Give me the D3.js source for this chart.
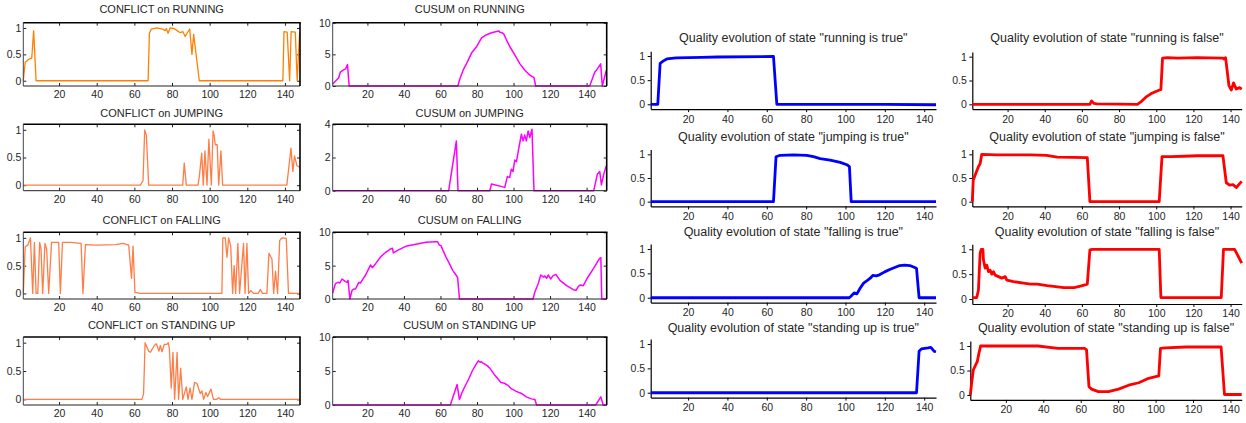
<!DOCTYPE html>
<html><head><meta charset="utf-8">
<script src="https://cdn.jsdelivr.net/npm/d3@7"></script>
<style>
body{margin:0;background:#fff}
svg{display:block}
text{font-family:"Liberation Sans",Arial,sans-serif;fill:#262626}
</style>
</head><body>
<svg id="c" width="1246" height="423"></svg>
<script>
// ---------------- DATA (x = time index, y = value) ----------------
const xTickValues = [20,40,60,80,100,120,140];
const yTicksUnit = [0,0.5,1];
const yTicksCusum10 = [0,5,10];
const yTicksCusum4 = [0,2,4];

const conflictTitles = ["CONFLICT on RUNNING","CONFLICT on JUMPING","CONFLICT on FALLING","CONFLICT on STANDING UP"];
const cusumTitles = ["CUSUM on RUNNING","CUSUM on JUMPING","CUSUM on FALLING","CUSUM on STANDING UP"];
const qualityTrueTitles = ['Quality evolution of state "running is true"','Quality evolution of state "jumping is true"','Quality evolution of state "falling is true"','Quality evolution of state "standing up is true"'];
const qualityFalseTitles = ['Quality evolution of state "running is false"','Quality evolution of state "jumping is false"','Quality evolution of state "falling is false"','Quality evolution of state "standing up is false"'];

const conflictRunning = [[1,0],[2,0.35],[3,0.38],[4,0.41],[5.5,0.43],[6.5,0.95],[7.8,0],[67.3,0],[68,0.9],[69,0.98],[72,1],[75,0.98],[76.3,0.95],[77,0.99],[77.9,0.9],[79,1],[81,0.99],[82.7,0.95],[84.4,0.91],[85.8,0.93],[87,0.84],[88,0.9],[89.4,0.98],[90.6,0.5],[91.5,0.88],[94.5,0],[138.9,0],[139.5,0.93],[141.2,0.92],[142.5,0],[143.3,0.93],[145.5,0.92],[146.5,0],[147.8,0.92]];
const conflictJumping = [[1,0],[63.2,0],[64.6,0.08],[65.5,1.0],[66.4,0.9],[67.6,0],[85.7,0],[86.5,0.4],[87.6,0],[93.8,0],[94.5,0.15],[95.8,0.58],[96.6,0],[97.5,0.62],[98.6,0],[99.6,0.83],[100.9,0],[101.8,0.98],[102.4,0.9],[103,0.73],[104,0.73],[104.8,0],[106,0.62],[106.9,0],[141,0],[143.2,0.67],[144.2,0.25],[145.1,0.53],[146.4,0.35],[148,0.32]];
const conflictFalling = [[1,0],[2,0.84],[3.4,0.87],[4.8,1.0],[6,0],[6.9,0.92],[7.8,0],[8.7,0],[9.7,0.92],[10.4,0.8],[11.3,0],[12.5,0.9],[13.4,0.8],[14.5,0],[16,0.92],[19.8,0.92],[20.7,0],[21.8,0.92],[26,0.92],[31.7,0.9],[32.7,0],[34,0.88],[40,0.87],[50,0.88],[54,0.9],[57,0.87],[58.5,0.27],[59.3,0.85],[60.3,0.02],[63,0],[106.5,0],[107,1.0],[108.3,1.0],[109.2,0.65],[110.1,1.0],[111.2,0.85],[112.2,0],[113,0.5],[113.8,0],[115,0.9],[115.9,0],[118,0.9],[118.8,0],[119.8,0.9],[120.7,0],[121.9,0.05],[123.4,0],[125.8,0],[126.9,0.07],[128.1,0],[130.4,0],[131.5,0.72],[133.1,0.62],[134,0],[135,0.4],[136.1,0],[137.2,0.95],[138.4,1.0],[140.7,0.99],[141.9,0],[148,0]];
const conflictStanding = [[1,0],[64,0],[64.9,0.1],[65.7,1.0],[67.6,0.85],[68.5,0.83],[70.6,0.95],[71.7,0.98],[73.1,0.85],[73.8,0.95],[74.7,0.84],[75.9,0.97],[77.3,0.97],[78,1.0],[78.6,0.9],[79.6,0.2],[80.5,0.83],[81.4,0],[82.7,0.83],[83.5,0],[84.6,0.55],[85.7,0],[87.6,0.22],[88.5,0],[89.6,0.2],[90.6,0],[92,0.3],[93.3,0.28],[95,0.1],[95.9,0.15],[96.8,0],[98,0.12],[98.9,0.05],[100.7,0.18],[102,0],[103.8,0],[104.8,0.03],[105.7,0],[148,0]];

const cusumRunning = [[1,0.3],[3,0.9],[4.3,1.3],[5.2,2.2],[6.7,2.5],[8.1,2.7],[9.1,3.4],[10,0],[69.5,0],[70.6,1.1],[72.4,2.5],[74.2,3.5],[77,5.2],[79.7,6.2],[82.5,7.6],[85.2,8.1],[88,8.4],[90.7,8.6],[92,8.7],[92.5,8.5],[93.8,8.4],[94.7,8.2],[96.1,7.3],[98,6.2],[100.7,4.9],[103.5,3.5],[106.2,2.5],[109,1.7],[110.8,1.4],[111.2,1.3],[112.1,0],[141.7,0],[144.5,2.2],[145.4,2.5],[147.7,3.5],[148.6,0],[150.8,2.5]];
const cusumJumping = [[1,0],[64.5,0],[68.7,3.0],[69.6,0],[87,0],[87.9,0.4],[95.2,0.2],[96.6,0.85],[97.9,0.8],[98.8,1.3],[99.7,1.15],[100.7,1.85],[101.6,1.75],[102.8,2.5],[104.3,3.4],[105.2,3.0],[106.1,3.35],[107,3.0],[108,3.6],[108.9,3.2],[110.1,3.7],[111.2,0],[143.9,0],[145.9,1.0],[147.2,1.15],[148.1,0.35],[149.4,1.0],[150.8,1.5]];
const cusumFalling = [[1,0.9],[2.5,2.3],[3.9,2.5],[4.9,2.4],[6.1,3.0],[8,2.6],[8.9,2.5],[9.4,2.8],[10.4,0],[11.6,1.3],[12.6,1.5],[13.5,1.5],[14.4,2.0],[15.3,2.5],[16.2,2.4],[17.1,2.8],[19,3.6],[20.8,4.6],[21.7,5.1],[22.7,4.7],[24.5,5.3],[27.2,6.3],[30,7.0],[32.7,7.5],[33.7,7.6],[34.2,6.9],[37.3,7.4],[41,7.9],[46.5,8.2],[52,8.5],[57.5,8.6],[58.4,8.6],[59.3,8.1],[60.3,8.0],[61.2,7.4],[63,6.3],[64.9,5.3],[66.7,4.3],[68.5,3.6],[69.4,3.2],[70.4,0],[110.7,0],[111.6,1.0],[113.5,2.3],[114.9,3.6],[116.2,3.3],[117.1,3.45],[118.1,3.1],[119,3.6],[120.3,3.0],[121.7,3.5],[123.2,3.7],[125.4,2.8],[129.1,2.0],[132.7,1.4],[134.2,1.3],[135.5,1.9],[136.4,2.1],[138.2,2.0],[140.1,3.0],[143.8,4.6],[147.1,6.1],[147.8,6.2],[148.3,0],[151,0]];
const cusumStanding = [[1,0],[65.4,0],[69.1,3.0],[70.4,0.8],[71.9,1.9],[73.7,2.9],[75.6,3.9],[77.4,5.0],[79.3,5.9],[80.7,6.5],[81.7,6.3],[82.4,6.35],[83,6.2],[84.3,6.0],[85.7,5.75],[86.7,5.5],[87.6,5.2],[89.4,4.5],[91.3,3.9],[93.1,3.3],[95,3.2],[96.9,2.9],[98.7,2.4],[101.5,2.0],[104.3,1.7],[107,1.2],[109.8,0.9],[111.7,0.8],[112.6,0],[145,0],[147.8,1.2],[149.1,0],[151,0]];

const qualityRunningTrue = [[1,0],[4.6,0],[5.8,0.85],[7.5,0.9],[9.2,0.94],[14,0.96],[27,0.97],[35,0.98],[63.4,0.99],[65.1,0],[120,0],[146,-0.01]];
const qualityJumpingTrue = [[1,0],[63.4,0],[64.7,0.95],[66.8,0.98],[73.6,0.99],[80.3,0.98],[83.7,0.95],[87.1,0.91],[92.2,0.88],[97.3,0.83],[100.7,0.78],[102,0.74],[102.9,0],[146,0]];
const qualityFallingTrue = [[1,0],[101.9,0],[102.8,0.03],[104.4,0.1],[105.8,0.08],[107.5,0.2],[109.2,0.3],[111.3,0.36],[112.6,0.4],[113.9,0.46],[115.6,0.45],[117.3,0.47],[119.9,0.53],[122.5,0.58],[125,0.62],[127.6,0.66],[130.1,0.67],[132.7,0.66],[135.2,0.62],[136.1,0.6],[137.4,0],[146,0]];
const qualityStandingTrue = [[1,0],[136.1,0],[137.4,0.85],[138.6,0.9],[142,0.92],[143.4,0.93],[145.1,0.85],[146,0.84]];

const qualityRunningFalse = [[1,0],[64.3,0],[65.2,0.07],[66.5,0.02],[68,0.01],[89.9,0],[91.7,0.05],[94.4,0.15],[97.1,0.22],[99.8,0.27],[102.5,0.31],[103.4,0.97],[106,0.98],[111.5,0.97],[122,0.98],[135.9,0.97],[136.4,0.95],[137.3,0.98],[138.2,0.7],[139.1,0.4],[140.4,0.3],[141.6,0.45],[143.1,0.32],[144.9,0.35],[146,0.32]];
const qualityJumpingFalse = [[1,0],[1.5,0.45],[2.5,0.56],[4.3,0.74],[5.2,0.8],[6.1,1.0],[14.2,0.99],[32.3,0.99],[41,0.98],[46.7,0.94],[62.9,0.93],[64.3,0],[101.6,0],[103.1,0.95],[108,0.95],[115,0.96],[122,0.97],[135.9,0.97],[137.7,0.4],[139.5,0.35],[141.3,0.36],[143.1,0.3],[144.9,0.38],[146,0.43]];
const qualityFallingFalse = [[1,0.03],[3.4,0.03],[4.3,0.18],[5.2,0.92],[5.8,1.0],[6.7,1.0],[7,0.79],[7.9,0.62],[8.8,0.68],[9.7,0.55],[10.6,0.58],[11.5,0.5],[12.4,0.55],[13.3,0.48],[15.1,0.45],[16.9,0.42],[18.7,0.45],[19.6,0.38],[23.2,0.35],[28.6,0.32],[32.3,0.3],[35.9,0.3],[41.3,0.27],[50.3,0.23],[55.7,0.23],[59.3,0.26],[62.9,0.3],[64.3,0.99],[65.6,1.0],[101.6,1.0],[102.5,0.03],[135,0.03],[136.2,1.0],[142.2,1.0],[146,0.72]];
const qualityStandingFalse = [[1,0],[1.7,0.24],[2.6,0.51],[3.8,0.61],[4.7,0.68],[5.6,0.85],[6.5,1.0],[37.1,1.0],[47.8,0.95],[62.2,0.95],[63.1,0.92],[64.4,0.17],[65.8,0.12],[69.4,0.07],[74.8,0.07],[80.2,0.12],[85.6,0.2],[91,0.25],[96.3,0.34],[101.7,0.39],[102.6,0.95],[105.3,0.96],[116.1,0.98],[135,0.98],[136.8,0.01],[146,0.01]];

// ---------------- LAYOUT / STYLE ----------------
const svg = d3.select("#c");
const FONT_TICK = 10.5;

const leftRows = [
  {top:22.7, bottom:86,    titleY:13.3},
  {top:124.3, bottom:190.7, titleY:116.7},
  {top:232.3, bottom:299,  titleY:224},
  {top:337,  bottom:405,   titleY:329}
];
const rightRowsTrue = [
  {top:51.2, bottom:109.1, titleY:42.2},
  {top:149.6, bottom:206.4, titleY:140.5},
  {top:244.1, bottom:302.6, titleY:236.2},
  {top:339.1, bottom:397.6, titleY:331.8}
];
const rightRowsFalse = [
  {top:51.9, bottom:109.1, titleY:42.2},
  {top:149.6, bottom:206.4, titleY:140.5},
  {top:244.3, bottom:304, titleY:236.2},
  {top:341.1, bottom:399.9, titleY:332.3}
];

const panels = [];
const conflictData = [conflictRunning, conflictJumping, conflictFalling, conflictStanding];
const conflictColors = ["#ff8000","#ff7d46","#ff7d46","#ff7d46"];
const cusumData = [cusumRunning, cusumJumping, cusumFalling, cusumStanding];
const cusumY = [[0,10],[0,4],[0,10],[0,10]];
const cusumTicks = [yTicksCusum10, yTicksCusum4, yTicksCusum10, yTicksCusum10];
const qTrue = [qualityRunningTrue, qualityJumpingTrue, qualityFallingTrue, qualityStandingTrue];
const qFalse = [qualityRunningFalse, qualityJumpingFalse, qualityFallingFalse, qualityStandingFalse];

for (let i=0;i<4;i++){
  panels.push({box:true, title:conflictTitles[i], data:conflictData[i], color:conflictColors[i], lw:1.3,
    x0:23.3, x1:300, ...leftRows[i], xDomain:[1,148], yDomain:[-0.1,1.1], yTicks:yTicksUnit, titleSize:11});
  panels.push({box:true, title:cusumTitles[i], data:cusumData[i], color:"#ff00ff", lw:1.5,
    x0:332.7, x1:606.7, ...leftRows[i], xDomain:[1,151], yDomain:cusumY[i], yTicks:cusumTicks[i], titleSize:11});
  panels.push({box:false, title:qualityTrueTitles[i], data:qTrue[i], color:"#0000ff", lw:2.8,
    x0:650.7, x1:936, ...rightRowsTrue[i], xDomain:[1,146], yDomain:[-0.1,1.1], yTicks:yTicksUnit, titleSize:12.5});
  panels.push({box:false, title:qualityFalseTitles[i], data:qFalse[i], color:"#ff0000", lw:2.8,
    x0:(i===3?970.3:972.3), x1:1241.7, ...rightRowsFalse[i], xDomain:[1,146], yDomain:[-0.1,1.1], yTicks:yTicksUnit, titleSize:12.5});
}

const fmt = d => (d===0.5? "0.5" : String(d));

function drawPanel(p){
  const g = svg.append("g");
  const x = d3.scaleLinear().domain(p.xDomain).range([p.x0, p.x1]);
  const y = d3.scaleLinear().domain(p.yDomain).range([p.bottom, p.top]);
  const clipId = "clip" + Math.round(p.x0) + "_" + Math.round(p.top);
  g.append("clipPath").attr("id", clipId).append("rect")
    .attr("x", p.x0-2).attr("y", p.top-2).attr("width", p.x1-p.x0+4).attr("height", p.bottom-p.top+4);

  if (p.box){
    const ax = g.append("g").attr("transform",`translate(0,${p.bottom})`)
      .call(d3.axisBottom(x).tickValues(xTickValues).tickSize(-3).tickSizeOuter(0).tickPadding(4.5).tickFormat(fmt));
    const axT = g.append("g").attr("transform",`translate(0,${p.top})`)
      .call(d3.axisTop(x).tickValues(xTickValues).tickSize(-3).tickSizeOuter(0).tickFormat(""));
    const ay = g.append("g").attr("transform",`translate(${p.x0},0)`)
      .call(d3.axisLeft(y).tickValues(p.yTicks).tickSize(-3).tickSizeOuter(0).tickPadding(2).tickFormat(fmt));
    const ayR = g.append("g").attr("transform",`translate(${p.x1},0)`)
      .call(d3.axisRight(y).tickValues(p.yTicks).tickSize(-3).tickSizeOuter(0).tickFormat(""));
    [ax,axT,ay,ayR].forEach(a=>{a.select(".domain").remove(); a.selectAll("line").attr("stroke","#222");
      a.selectAll("text").attr("font-size",FONT_TICK).attr("fill","#262626").attr("font-family",'"Liberation Sans",Arial,sans-serif');});
    g.append("path").datum(p.data.filter(d=>d[0]>=p.xDomain[0]-1))
      .attr("clip-path",`url(#${clipId})`)
      .attr("d", d3.line().x(d=>x(Math.max(p.xDomain[0],Math.min(p.xDomain[1],d[0])))).y(d=>y(d[1])))
      .attr("fill","none").attr("stroke",p.color).attr("stroke-width",p.lw).attr("stroke-linejoin","round");
    g.append("line").attr("x1",p.x0).attr("x2",p.x1).attr("y1",p.bottom).attr("y2",p.bottom).attr("stroke","#222").attr("stroke-width",1);
    g.append("line").attr("x1",p.x0).attr("x2",p.x0).attr("y1",p.top).attr("y2",p.bottom).attr("stroke","#444").attr("stroke-width",1);
    g.append("line").attr("x1",p.x0).attr("x2",p.x1+0.8).attr("y1",p.top).attr("y2",p.top).attr("stroke","#000").attr("stroke-width",1.6);
    g.append("line").attr("x1",p.x1).attr("x2",p.x1).attr("y1",p.top).attr("y2",p.bottom).attr("stroke","#000").attr("stroke-width",1.6);
  } else {
    const ax = g.append("g").attr("transform",`translate(0,${p.bottom})`)
      .call(d3.axisBottom(x).tickValues(xTickValues).tickSize(3).tickSizeOuter(0).tickPadding(3).tickFormat(fmt));
    const ay = g.append("g").attr("transform",`translate(${p.x0},0)`)
      .call(d3.axisLeft(y).tickValues(p.yTicks).tickSize(3).tickSizeOuter(0).tickPadding(2.5).tickFormat(fmt));
    [ax,ay].forEach(a=>{a.select(".domain").attr("stroke","#000").attr("stroke-width",1.2); a.selectAll("line").attr("stroke","#000");
      a.selectAll("text").attr("font-size",FONT_TICK).attr("fill","#262626").attr("font-family",'"Liberation Sans",Arial,sans-serif');});
    g.append("path").datum(p.data)
      .attr("d", d3.line().x(d=>x(Math.max(p.xDomain[0],Math.min(p.xDomain[1],d[0])))).y(d=>y(d[1])))
      .attr("fill","none").attr("stroke",p.color).attr("stroke-width",p.lw).attr("stroke-linejoin","round");
  }
  g.append("text").attr("x",(p.x0+p.x1)/2).attr("y",p.titleY).attr("text-anchor","middle")
    .attr("font-size",p.titleSize).text(p.title);
}
panels.forEach(drawPanel);
</script>
</body></html>
